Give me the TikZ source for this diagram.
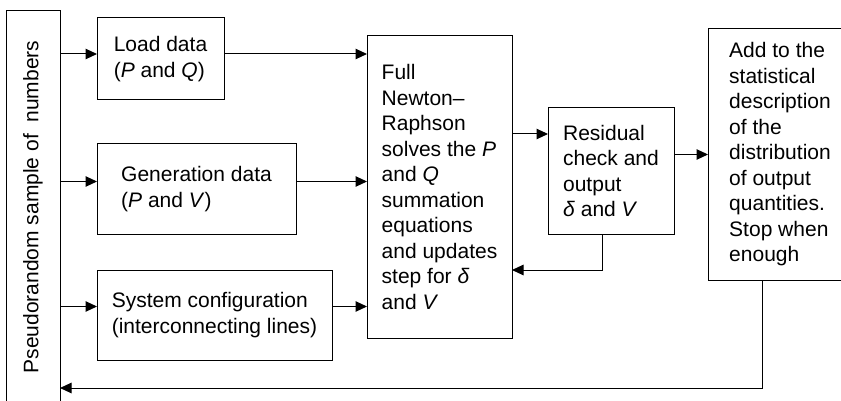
\documentclass[tikz,border=0pt]{standalone}
\usepackage{fontspec}
\setmainfont{Liberation Sans}
\usetikzlibrary{arrows.meta, positioning}

\begin{document}
\begin{tikzpicture}[
  x=1pt, y=-1pt,
  >={Triangle[length=11.5pt, width=10.5pt]},
  stagebox/.style={draw, line width=1pt, anchor=north west, inner sep=0pt, outer sep=0pt,
    align=left, font=\fontsize{21}{25.5}\selectfont},
  arr/.style={->, line width=1pt},
]
\useasboundingbox (0,0) rectangle (841,401);

% Source of random samples
\node[stagebox, minimum width=54pt, minimum height=394pt] (src) at (6,11) {};
\node[rotate=90, font=\fontsize{21}{25.5}\selectfont] (srclbl) at ([yshift=1pt]src.center) {Pseudorandom sample of~ numbers};

% Input data
\node[stagebox, minimum width=127pt, minimum height=82pt] (load) at (97,18) {Load data\\(\textit{P} and \textit{Q})};
\node[stagebox, minimum width=199pt, minimum height=90pt] (gen) at (97,144) {Generation data\\(\textit{P} and \textit{V})};
\node[stagebox, minimum width=235pt, minimum height=90pt] (sys) at (97,270) {System configuration\\(interconnecting lines)};

% Solver and output
\node[stagebox, minimum width=145pt, minimum height=302pt] (nr) at (367,36) {Full\\Newton–\\Raphson\\solves the \textit{P}\\and \textit{Q}\\summation\\equations\\and updates\\step for \textit{δ}\\and \textit{V}};
\node[stagebox, minimum width=126pt, minimum height=126pt] (res) at (548,108) {Residual\\check and\\output\\\textit{δ} and \textit{V}};
\node[stagebox, minimum width=144pt, minimum height=251pt] (stats) at (708,29) {Add to the\\statistical\\description\\of the\\distribution\\of output\\quantities.\\Stop when\\enough};

\draw[arr] ([yshift=5pt]load.west -| src.east) -- ([yshift=5pt]load.west);
\draw[arr] ([yshift=7.5pt]gen.west -| src.east) -- ([yshift=7.5pt]gen.west);
\draw[arr] ([yshift=8.5pt]sys.west -| src.east) -- ([yshift=8.5pt]sys.west);

\draw[arr] ([yshift=5pt]load.east) -- ([yshift=5pt]load.east -| nr.west);
\draw[arr] ([yshift=7.5pt]gen.east) -- ([yshift=7.5pt]gen.east -| nr.west);
\draw[arr] ([yshift=8.5pt]sys.east) -- ([yshift=8.5pt]sys.east -| nr.west);

\draw[arr] ([yshift=37pt]res.west -| nr.east) -- ([yshift=37pt]res.west);
\draw[arr] (stats.west -| res.east) -- (stats.west);

% Feedback loops
\draw[arr] ([xshift=-9pt]res.south) |- ([yshift=-83pt]nr.east);
\draw[arr] ([xshift=-18pt]stats.south) |- ([yshift=-180pt]src.east);

\end{tikzpicture}
\end{document}
